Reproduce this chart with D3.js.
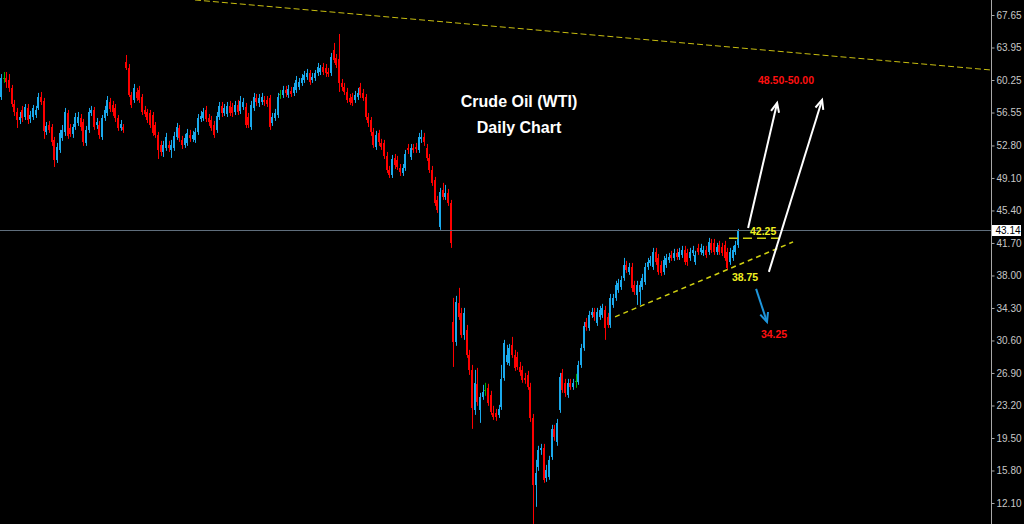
<!DOCTYPE html>
<html>
<head>
<meta charset="utf-8">
<script src="https://cdn.jsdelivr.net/npm/d3@7"></script>
<style>
  html,body{margin:0;padding:0;background:#000;overflow:hidden;}
  svg{display:block;}
</style>
</head>
<body>
<script>
// ---------- DATA (daily candles, oldest to newest) ----------
const opens = [
 58.32,60.48,60.48,60.26,59.35,57.52,56.61,55.70,56.84,56.04,57.07,55.82,56.04,56.27,57.07,58.32,57.87,54.34,55.13,54.90,
 53.43,51.15,52.29,53.66,54.34,56.50,54.79,54.11,54.90,55.36,55.93,55.47,53.09,54.57,56.50,56.84,55.13,55.13,53.77,55.93,
 56.50,57.75,57.41,57.07,55.93,54.79,54.90,62.30,61.62,58.55,57.98,58.89,59.12,58.32,56.84,
 56.61,56.50,56.27,55.13,54.00,52.86,52.06,52.52,52.86,52.29,52.52,53.77,54.79,53.43,52.86,53.09,54.00,53.55,53.43,54.34,
 55.82,55.93,56.84,55.93,55.70,55.13,54.57,56.04,57.30,56.50,56.38,57.30,57.18,56.61,57.41,56.73,57.18,57.18,56.04,54.90,
 57.07,58.21,57.64,57.75,57.98,57.98,58.21,55.36,55.93,56.27,58.66,58.55,59.12,58.55,59.01,58.78,59.12,
 59.46,59.92,60.26,60.60,61.05,60.26,60.48,61.05,61.16,61.73,61.62,61.16,61.05,63.67,62.76,62.64,59.92,59.46,58.89,58.21,
 58.32,57.98,58.32,59.46,58.78,58.32,56.04,55.70,54.34,52.63,54.23,53.09,53.09,51.61,50.01,49.44,51.38,51.15,50.24,49.67,
 50.24,52.52,51.49,52.52,52.63,52.29,53.55,53.77,52.52,51.38,50.01,48.88,46.60,43.53,47.74,46.94,47.40,46.26,
 32.71,30.44,34.88,33.74,31.24,31.81,28.96,27.25,22.70,25.67,22.70,24.18,24.98,25.21,24.41,22.36,22.36,22.13,23.04,26.34,
 28.16,28.05,30.10,28.96,28.73,27.59,27.25,26.34,26.68,25.32,21.79,14.17,16.21,18.15,18.38,14.97,15.07,17.35,20.54,19.06,
 22.70,26.91,25.78,24.41,25.78,25.32,26.01,25.89,27.82,29.76,32.71,32.03,33.51,33.85,32.60,
 33.29,33.51,34.08,33.29,32.37,34.65,35.45,36.36,36.70,37.72,39.20,38.40,38.97,36.93,35.79,36.13,36.70,37.27,38.97,39.43,
 38.97,40.68,40.00,39.20,38.40,39.20,39.77,40.34,40.00,40.57,40.11,40.34,40.91,40.57,40.00,40.57,39.54,41.14,40.68,40.57,
 40.91,40.68,41.71,41.71,40.68,41.48,41.25,41.48,40.68,39.54,40.00,40.68,41.48
];
const highs = [
 60.93,61.16,61.16,60.93,59.69,57.98,57.07,56.61,57.30,57.52,57.52,56.73,57.41,57.30,58.78,58.89,58.21,55.47,55.59,55.24,
 53.77,53.09,54.57,55.13,57.07,56.84,55.24,55.24,56.50,56.61,56.38,55.82,55.02,57.07,57.30,57.18,55.93,55.59,56.27,57.30,
 58.43,58.21,57.87,57.52,56.27,55.70,55.24,63.10,62.07,58.89,59.80,59.35,59.58,58.66,57.30,
 56.96,56.84,56.61,55.47,54.34,53.32,53.32,54.23,53.32,53.43,54.34,55.36,55.13,53.89,54.11,54.68,54.57,54.46,54.79,56.38,
 56.73,57.07,57.30,56.38,56.16,55.59,56.61,57.75,57.75,57.52,57.75,57.87,57.64,57.87,57.98,58.43,58.21,57.64,56.50,57.87,
 58.78,58.66,58.66,58.78,58.43,58.43,58.55,56.50,56.96,58.78,59.12,59.58,59.58,59.69,59.46,59.92,60.71,
 60.48,60.93,61.28,61.51,61.39,61.05,61.39,62.19,61.96,62.19,62.07,61.62,63.33,64.47,63.21,65.49,60.37,59.92,59.35,58.66,
 58.78,59.01,59.35,59.92,59.23,58.66,56.50,56.04,54.79,54.46,54.57,53.55,53.43,52.06,50.47,51.72,51.83,51.61,50.69,50.69,
 52.29,52.97,52.97,52.97,53.09,54.23,54.57,54.23,52.97,51.83,50.47,49.22,47.06,47.97,48.54,48.31,47.85,46.60,
 35.45,35.68,36.59,34.31,34.31,32.37,29.53,27.82,27.25,27.48,24.64,25.55,25.78,25.67,24.87,23.16,22.81,23.27,27.82,30.67,
 30.10,30.21,31.01,29.53,29.30,28.16,27.71,26.91,27.14,25.78,22.24,17.01,18.61,18.83,18.83,16.44,17.47,21.00,21.00,21.67,
 26.91,27.36,26.23,26.23,26.23,26.23,26.80,28.28,30.21,32.71,33.17,33.97,34.31,34.31,34.31,
 34.54,34.77,34.54,33.74,35.90,35.90,37.39,37.61,37.95,40.00,39.66,39.43,39.43,37.39,37.39,37.39,38.18,39.43,40.00,40.22,
 41.14,41.14,40.45,39.66,40.22,40.45,40.57,40.80,41.03,41.03,41.14,41.37,41.37,41.03,41.14,41.37,40.80,41.60,41.60,41.37,
 41.37,42.28,42.16,42.16,41.71,41.94,41.71,41.94,41.14,41.14,41.37,41.94,43.30
];
const lows = [
 57.98,59.92,59.35,58.89,57.18,56.16,54.79,55.24,55.47,55.70,55.24,55.36,55.70,55.93,56.84,57.41,53.55,54.00,54.23,52.75,
 50.35,50.81,51.95,53.32,53.89,53.55,53.77,53.66,54.57,55.02,54.46,52.75,52.75,54.23,56.16,54.57,54.68,53.55,53.43,55.59,
 56.16,56.61,56.16,55.47,54.46,54.46,54.23,61.39,58.32,57.07,57.64,57.87,57.64,56.27,56.04,
 55.36,54.79,53.89,53.66,51.26,51.61,51.49,52.18,52.06,51.38,52.18,53.43,53.20,52.40,52.52,52.75,53.20,53.20,53.09,54.00,
 55.47,55.59,55.47,55.02,54.46,53.66,54.23,55.70,56.04,56.16,56.04,56.16,56.04,56.27,56.27,56.38,56.84,54.79,54.79,54.57,
 56.73,57.30,57.18,57.41,57.30,57.18,54.57,55.02,55.59,55.93,58.10,58.21,58.32,58.21,58.32,58.43,58.78,
 59.12,59.58,59.92,60.26,59.69,59.92,60.14,60.71,60.82,60.82,60.60,60.60,60.71,62.19,61.62,58.89,59.01,58.55,57.64,57.41,
 57.30,57.64,57.98,58.21,57.87,55.70,54.90,53.89,52.52,52.29,52.75,52.29,51.26,49.67,49.10,49.10,50.12,50.01,49.33,49.33,
 49.90,51.83,51.15,51.95,51.95,51.95,53.09,52.75,51.04,49.67,48.20,45.92,45.12,43.19,46.60,46.60,45.92,41.14,
 27.59,29.99,32.94,30.90,30.67,28.62,26.68,20.54,22.13,23.16,21.22,23.84,24.30,23.16,22.13,21.56,21.45,21.79,22.70,26.01,
 27.82,27.71,28.62,27.14,27.25,26.57,25.78,25.67,24.98,21.33,9.72,11.66,15.76,17.58,14.40,14.51,14.74,17.01,19.18,18.61,
 22.36,24.64,24.18,24.07,24.98,24.98,25.21,25.55,27.48,29.42,31.70,31.70,33.17,32.83,32.26,
 32.94,33.17,30.67,32.03,32.03,34.31,35.11,36.02,36.36,37.39,38.29,38.07,36.13,35.79,34.65,34.65,36.36,36.93,38.63,39.09,
 38.63,39.20,38.07,37.95,38.07,38.86,39.43,39.66,39.66,39.77,39.77,40.00,39.20,39.09,39.66,40.22,39.20,40.34,40.34,40.22,
 40.00,40.34,40.57,40.34,40.34,40.34,40.22,39.66,38.63,39.20,39.66,40.34,41.14
];
const closes = [
 60.48,60.48,60.03,59.35,57.52,56.61,55.70,56.04,55.93,57.18,55.70,56.27,57.07,56.84,58.32,57.75,54.46,55.02,54.57,53.20,
 51.15,52.63,54.23,54.57,56.61,53.89,54.11,54.90,56.04,56.04,54.90,53.20,54.57,56.61,56.84,54.90,55.47,54.00,55.93,56.84,
 57.98,56.96,56.61,55.93,54.79,55.24,54.57,61.62,58.55,57.41,59.35,58.21,57.98,56.61,56.38,
 55.70,55.13,54.23,54.00,52.29,52.06,52.86,53.77,52.52,52.86,53.89,54.90,53.66,52.86,53.66,54.23,53.66,54.00,54.34,55.93,
 56.16,56.61,55.82,55.47,54.79,54.00,56.16,57.30,56.50,57.07,57.30,56.50,56.50,57.41,56.61,57.87,57.75,55.13,55.13,57.41,
 58.32,57.75,58.21,58.32,57.75,57.52,54.90,56.04,56.50,58.32,58.66,59.12,58.78,59.23,58.66,59.46,60.26,
 60.03,60.48,60.82,61.05,60.03,60.60,61.05,61.73,61.62,61.16,61.05,60.93,62.87,62.53,61.96,59.92,59.46,58.89,57.98,57.75,
 57.64,58.55,58.78,58.55,58.21,56.04,55.36,54.34,52.86,54.00,53.20,52.63,51.61,50.01,49.44,51.26,50.58,50.35,49.78,50.24,
 51.83,52.29,52.52,52.29,52.40,53.77,53.77,53.20,51.38,50.01,48.54,46.26,45.46,47.51,46.94,47.40,46.26,41.71,
 30.44,34.99,33.29,31.24,33.74,28.96,27.25,22.93,25.78,23.61,24.18,24.75,24.98,23.50,22.47,21.90,21.90,22.81,26.23,30.33,
 28.96,29.76,28.96,27.48,27.59,27.02,26.12,26.12,25.32,21.79,14.17,15.53,18.15,18.38,14.74,15.87,17.01,20.54,19.63,21.22,
 26.46,24.98,24.64,25.78,25.32,25.78,26.01,27.82,29.76,32.26,32.14,33.51,33.85,33.29,33.85,
 34.08,34.31,32.03,32.37,35.45,35.45,36.93,37.16,37.50,39.20,38.63,38.97,36.59,36.13,36.93,36.93,37.72,38.97,39.54,39.77,
 40.68,39.54,38.40,38.29,39.77,40.00,40.11,40.00,40.57,40.11,40.68,40.91,39.54,39.54,40.68,40.91,40.34,40.68,41.14,40.91,
 40.34,41.82,40.91,40.68,41.25,40.68,40.57,40.00,38.86,40.68,40.91,41.48,43.14
];
const yTicks = [67.65,63.95,60.25,56.55,52.80,49.10,45.40,41.70,38.00,34.30,30.60,26.90,23.20,19.50,15.80,12.10];
const lastPrice = 43.14;
const titleLines = ["Crude Oil (WTI)", "Daily Chart"];
const levelTexts = ["48.50-50.00", "42.25", "38.75", "34.25"];
const levelPrice = 42.25;

// ---------- LAYOUT / STYLE ----------
const W = 1024, H = 524, axisX = 991;
const COL_UP = "#1aa9ec", COL_DN = "#ff0000", COL_EQ = "#00b000";
const COL_YEL = "#cfcf10";

const svg = d3.select("body").append("svg")
  .attr("width", W).attr("height", H)
  .style("background", "#000");

const n = closes.length;
const x = d3.scaleBand().domain(d3.range(n)).range([0, 739]).paddingInner(0.25);
const bw = x.bandwidth();
const xi = d3.scaleLinear().domain([0, n - 1]).range([x(0) + bw / 2, x(n - 1) + bw / 2]); // for annotations
const y = d3.scaleLinear().domain([12.10, 67.65]).range([503, 15]);

const plot = svg.append("g");
const candles = d3.range(n).map(i => ({i, o: opens[i], h: highs[i], l: lows[i], c: closes[i]}));
const col = d => d.c > d.o ? COL_UP : (d.c < d.o ? COL_DN : COL_EQ);

// current price line
svg.append("line")
  .attr("x1", 0).attr("x2", axisX)
  .attr("y1", Math.round(y(lastPrice)) + 0.5).attr("y2", Math.round(y(lastPrice)) + 0.5)
  .attr("stroke", "#5f6e7c").attr("stroke-width", 1);

// wicks
plot.selectAll("line.wick").data(candles).join("line")
  .attr("class", "wick")
  .attr("x1", d => Math.round(x(d.i) + bw / 2) + 0.5)
  .attr("x2", d => Math.round(x(d.i) + bw / 2) + 0.5)
  .attr("y1", d => y(d.h)).attr("y2", d => y(d.l))
  .attr("stroke", col).attr("stroke-width", 1);

// bodies
plot.selectAll("rect.body").data(candles).join("rect")
  .attr("class", "body")
  .attr("x", d => Math.round(x(d.i)))
  .attr("width", 2)
  .attr("y", d => y(Math.max(d.o, d.c)))
  .attr("height", d => Math.max(1, Math.abs(y(d.o) - y(d.c))))
  .attr("fill", col)
  .attr("shape-rendering", "crispEdges");

// ---------- ANNOTATIONS (anchored in candle index / price units) ----------
const ann = svg.append("g");
// long descending resistance line (dashed)
ann.append("line")
  .attr("x1", xi(72.9)).attr("y1", y(69.36))
  .attr("x2", xi(372.1)).attr("y2", y(61.39))
  .attr("stroke", "#c8be10").attr("stroke-width", 1).attr("stroke-dasharray", "6,3");
// rising support trendline
ann.append("line")
  .attr("x1", xi(230.8)).attr("y1", y(33.29))
  .attr("x2", xi(297.7)).attr("y2", y(41.82))
  .attr("stroke", COL_YEL).attr("stroke-width", 1.5).attr("stroke-dasharray", "5,4");
// short horizontal level at 42.25
ann.append("line")
  .attr("x1", xi(273.6)).attr("y1", y(levelPrice))
  .attr("x2", xi(292.8)).attr("y2", y(levelPrice))
  .attr("stroke", COL_YEL).attr("stroke-width", 1.5).attr("stroke-dasharray", "9,5");

function arrow(i1, p1, i2, p2, color) {
  const xa = xi(i1), ya = y(p1), xb = xi(i2), yb = y(p2);
  const ang = Math.atan2(yb - ya, xb - xa), L = 10, sp = 0.42;
  ann.append("line").attr("x1", xa).attr("y1", ya).attr("x2", xb).attr("y2", yb)
    .attr("stroke", color).attr("stroke-width", 2);
  ann.append("path")
    .attr("d", `M${xb - L * Math.cos(ang - sp)},${yb - L * Math.sin(ang - sp)} L${xb},${yb} L${xb - L * Math.cos(ang + sp)},${yb - L * Math.sin(ang + sp)}`)
    .attr("fill", "none").attr("stroke", color).attr("stroke-width", 2);
}
arrow(280.8, 43.41, 291.7, 57.64, "#ffffff");
arrow(288.6, 38.41, 308.6, 57.98, "#ffffff");
arrow(283.8, 36.47, 287.9, 32.71, "#1e96dc");

const labFont = "'Liberation Sans', Arial, sans-serif";
const labelSpecs = [
  {t: levelTexts[0], i: 284.5, p: 59.80, c: "#ff1010"},
  {t: levelTexts[1], i: 281.5, p: 42.62, c: "#f0f020"},
  {t: levelTexts[2], i: 274.7, p: 37.38, c: "#f0f020"},
  {t: levelTexts[3], i: 285.6, p: 30.90, c: "#ff1010"}
];
ann.selectAll("text.lvl").data(labelSpecs).join("text")
  .attr("class", "lvl")
  .attr("x", d => xi(d.i)).attr("y", d => y(d.p))
  .attr("fill", d => d.c)
  .attr("font-family", labFont).attr("font-weight", "bold").attr("font-size", "10.5px")
  .text(d => d.t);

ann.selectAll("text.title").data(titleLines).join("text")
  .attr("class", "title")
  .attr("x", xi(194.7))
  .attr("y", (d, k) => y(k === 0 ? 57.18 : 54.23))
  .attr("text-anchor", "middle")
  .attr("fill", "#ffffff")
  .attr("font-family", labFont).attr("font-weight", "bold").attr("font-size", "16px")
  .text(d => d);

// ---------- RIGHT PRICE AXIS ----------
svg.append("line").attr("x1", axisX + 0.5).attr("x2", axisX + 0.5).attr("y1", 0).attr("y2", H)
  .attr("stroke", "#a8a8a8").attr("stroke-width", 1);
const axis = svg.append("g").attr("transform", `translate(${axisX + 0.5},0)`)
  .call(d3.axisRight(y).tickValues(yTicks).tickSize(3).tickPadding(2).tickFormat(d3.format(".2f")));
axis.select(".domain").remove();
axis.selectAll(".tick line").attr("stroke", "#a8a8a8");
axis.selectAll(".tick text").attr("fill", "#c8c8c8")
  .attr("font-family", "'Liberation Sans', Arial, sans-serif").attr("font-size", "10px");

// last price tag
const lp = svg.append("g").attr("transform", `translate(${axisX + 1},${Math.round(y(lastPrice)) + 0.5})`);
lp.append("rect").attr("x", 0).attr("y", -5.5).attr("width", 29).attr("height", 11).attr("fill", "#ffffff");
lp.append("text").attr("x", 3.5).attr("y", 0).attr("dy", "0.34em")
  .attr("fill", "#000").attr("font-family", "'Liberation Sans', Arial, sans-serif").attr("font-size", "10px")
  .text(d3.format(".2f")(lastPrice));
</script>
</body>
</html>
